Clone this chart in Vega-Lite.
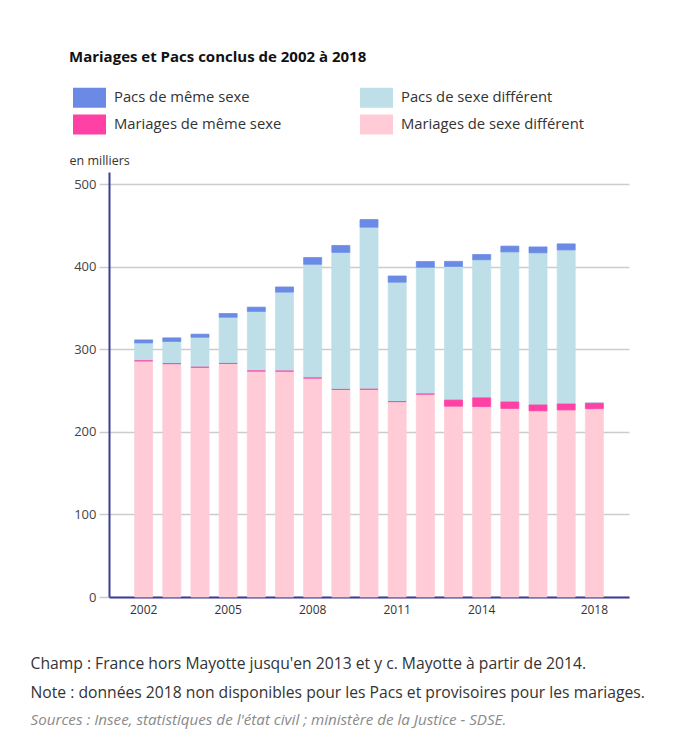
{
  "$schema": "https://vega.github.io/schema/vega-lite/v6.json",
  "background": "white",
  "padding": {"left": 30, "top": 50, "right": 5, "bottom": 5},
  "config": {
    "font": "Open Sans",
    "view": {"stroke": null}
  },
  "title": {
    "text": ["Champ : France hors Mayotte jusqu'en 2013 et y c. Mayotte à partir de 2014.", "Note : données 2018 non disponibles pour les Pacs et provisoires pour les mariages."],
    "subtitle": "Sources : Insee, statistiques de l'état civil ; ministère de la Justice - SDSE.",
    "orient": "bottom",
    "anchor": "start",
    "frame": "group",
    "dx": -78.5,
    "offset": 42,
    "font": "Open Sans",
    "fontSize": 15.7,
    "fontWeight": "normal",
    "color": "#333333",
    "lineHeight": 28.7,
    "subtitleFont": "Open Sans",
    "subtitleFontSize": 15.2,
    "subtitleFontStyle": "italic",
    "subtitleColor": "#8a8a8a",
    "subtitlePadding": 12
  },
  "vconcat": [
    {
      "width": 520,
      "height": 425,
      "title": {
        "text": "Mariages et Pacs conclus de 2002 à 2018",
        "anchor": "start",
        "frame": "group",
        "dx": -40,
        "dy": -85,
        "font": "Open Sans",
        "fontSize": 15,
        "fontWeight": "bold",
        "color": "#111111"
      },
      "data": {
        "values": [
          {"annee": "2002", "type": "Mariages de sexe différent", "milliers": 286.2},
          {"annee": "2003", "type": "Mariages de sexe différent", "milliers": 282.8},
          {"annee": "2004", "type": "Mariages de sexe différent", "milliers": 278.4},
          {"annee": "2005", "type": "Mariages de sexe différent", "milliers": 283.0},
          {"annee": "2006", "type": "Mariages de sexe différent", "milliers": 273.9},
          {"annee": "2007", "type": "Mariages de sexe différent", "milliers": 273.7},
          {"annee": "2008", "type": "Mariages de sexe différent", "milliers": 265.4},
          {"annee": "2009", "type": "Mariages de sexe différent", "milliers": 251.5},
          {"annee": "2010", "type": "Mariages de sexe différent", "milliers": 251.7},
          {"annee": "2011", "type": "Mariages de sexe différent", "milliers": 236.8},
          {"annee": "2012", "type": "Mariages de sexe différent", "milliers": 245.9},
          {"annee": "2013", "type": "Mariages de sexe différent", "milliers": 231.2},
          {"annee": "2014", "type": "Mariages de sexe différent", "milliers": 230.8},
          {"annee": "2015", "type": "Mariages de sexe différent", "milliers": 228.5},
          {"annee": "2016", "type": "Mariages de sexe différent", "milliers": 225.6},
          {"annee": "2017", "type": "Mariages de sexe différent", "milliers": 226.7},
          {"annee": "2018", "type": "Mariages de sexe différent", "milliers": 228.3},
          {"annee": "2002", "type": "Pacs de sexe différent", "milliers": 21.7},
          {"annee": "2003", "type": "Pacs de sexe différent", "milliers": 26.9},
          {"annee": "2004", "type": "Pacs de sexe différent", "milliers": 36.4},
          {"annee": "2005", "type": "Pacs de sexe différent", "milliers": 56.1},
          {"annee": "2006", "type": "Pacs de sexe différent", "milliers": 72.2},
          {"annee": "2007", "type": "Pacs de sexe différent", "milliers": 95.8},
          {"annee": "2008", "type": "Pacs de sexe différent", "milliers": 137.8},
          {"annee": "2009", "type": "Pacs de sexe différent", "milliers": 166.1},
          {"annee": "2010", "type": "Pacs de sexe différent", "milliers": 196.5},
          {"annee": "2011", "type": "Pacs de sexe différent", "milliers": 144.7},
          {"annee": "2012", "type": "Pacs de sexe différent", "milliers": 153.7},
          {"annee": "2013", "type": "Pacs de sexe différent", "milliers": 162.0},
          {"annee": "2014", "type": "Pacs de sexe différent", "milliers": 167.4},
          {"annee": "2015", "type": "Pacs de sexe différent", "milliers": 181.9},
          {"annee": "2016", "type": "Pacs de sexe différent", "milliers": 184.4},
          {"annee": "2017", "type": "Pacs de sexe différent", "milliers": 186.7},
          {"annee": "2018", "type": "Pacs de sexe différent", "milliers": 0},
          {"annee": "2002", "type": "Mariages de même sexe", "milliers": 0},
          {"annee": "2003", "type": "Mariages de même sexe", "milliers": 0},
          {"annee": "2004", "type": "Mariages de même sexe", "milliers": 0},
          {"annee": "2005", "type": "Mariages de même sexe", "milliers": 0},
          {"annee": "2006", "type": "Mariages de même sexe", "milliers": 0},
          {"annee": "2007", "type": "Mariages de même sexe", "milliers": 0},
          {"annee": "2008", "type": "Mariages de même sexe", "milliers": 0},
          {"annee": "2009", "type": "Mariages de même sexe", "milliers": 0},
          {"annee": "2010", "type": "Mariages de même sexe", "milliers": 0},
          {"annee": "2011", "type": "Mariages de même sexe", "milliers": 0},
          {"annee": "2012", "type": "Mariages de même sexe", "milliers": 0},
          {"annee": "2013", "type": "Mariages de même sexe", "milliers": 7.4},
          {"annee": "2014", "type": "Mariages de même sexe", "milliers": 10.5},
          {"annee": "2015", "type": "Mariages de même sexe", "milliers": 7.8},
          {"annee": "2016", "type": "Mariages de même sexe", "milliers": 7.1},
          {"annee": "2017", "type": "Mariages de même sexe", "milliers": 7.2},
          {"annee": "2018", "type": "Mariages de même sexe", "milliers": 6.4},
          {"annee": "2002", "type": "Pacs de même sexe", "milliers": 3.6},
          {"annee": "2003", "type": "Pacs de même sexe", "milliers": 4.3},
          {"annee": "2004", "type": "Pacs de même sexe", "milliers": 3.7},
          {"annee": "2005", "type": "Pacs de même sexe", "milliers": 4.4},
          {"annee": "2006", "type": "Pacs de même sexe", "milliers": 5.1},
          {"annee": "2007", "type": "Pacs de même sexe", "milliers": 6.2},
          {"annee": "2008", "type": "Pacs de même sexe", "milliers": 8.2},
          {"annee": "2009", "type": "Pacs de même sexe", "milliers": 8.4},
          {"annee": "2010", "type": "Pacs de même sexe", "milliers": 9.1},
          {"annee": "2011", "type": "Pacs de même sexe", "milliers": 7.5},
          {"annee": "2012", "type": "Pacs de même sexe", "milliers": 7.0},
          {"annee": "2013", "type": "Pacs de même sexe", "milliers": 6.1},
          {"annee": "2014", "type": "Pacs de même sexe", "milliers": 6.3},
          {"annee": "2015", "type": "Pacs de même sexe", "milliers": 7.0},
          {"annee": "2016", "type": "Pacs de même sexe", "milliers": 7.1},
          {"annee": "2017", "type": "Pacs de même sexe", "milliers": 7.3},
          {"annee": "2018", "type": "Pacs de même sexe", "milliers": 0}
        ]
      },
      "transform": [
        {"calculate": "indexof(['Pacs de même sexe', 'Pacs de sexe différent', 'Mariages de même sexe', 'Mariages de sexe différent'], datum.type)", "as": "rang"}
      ],
      "mark": {"type": "bar", "strokeWidth": 1, "strokeOpacity": 0.75},
      "encoding": {
        "x": {
          "field": "annee",
          "type": "ordinal",
          "scale": {"paddingInner": 0.36, "paddingOuter": 0.91},
          "axis": {
            "title": null,
            "labelAngle": 0,
            "ticks": false,
            "grid": false,
            "domainColor": "#3d3d99",
            "domainWidth": 2,
            "labelExpr": "indexof(['2002','2005','2008','2011','2014','2018'], datum.label) >= 0 ? datum.label : ''",
            "labelFontSize": 12,
            "labelColor": "#333333",
            "labelPadding": 7
          }
        },
        "y": {
          "field": "milliers",
          "type": "quantitative",
          "stack": "zero",
          "scale": {"domain": [0, 515], "nice": false},
          "axis": {
            "title": "en milliers",
            "titleAngle": 0,
            "titleX": -40,
            "titleY": -5,
            "titleAlign": "left",
            "titleBaseline": "bottom",
            "titleFontWeight": "normal",
            "titleFontSize": 12.5,
            "titleColor": "#333333",
            "values": [0, 100, 200, 300, 400, 500],
            "grid": true,
            "gridColor": "#cccccc",
            "gridWidth": 1.5,
            "tickColor": "#cccccc",
            "tickSize": 10,
            "tickWidth": 1.5,
            "domainColor": "#3d3d99",
            "domainWidth": 2,
            "labelFontSize": 13,
            "labelColor": "#444444",
            "labelPadding": 3
          }
        },
        "order": {"field": "rang", "type": "quantitative", "sort": "descending"},
        "color": {
          "field": "type",
          "type": "nominal",
          "scale": {
            "domain": ["Pacs de même sexe", "Pacs de sexe différent", "Mariages de même sexe", "Mariages de sexe différent"],
            "range": ["#6a8ae6", "#bedfe8", "#ff40a5", "#ffcbd6"]
          },
          "legend": {
            "title": null,
            "orient": "none",
            "legendX": -36,
            "legendY": -91,
            "direction": "horizontal",
            "columns": 2,
            "columnPadding": 78,
            "rowPadding": -5,
            "symbolType": "M-1,-0.606h2v1.212h-2z",
            "symbolSize": 1089,
            "symbolStrokeWidth": 0,
            "symbolOpacity": 1,
            "labelFont": "Open Sans",
            "labelFontSize": 14.8,
            "labelColor": "#333333",
            "labelOffset": 8,
            "labelLimit": 400
          }
        },
        "stroke": {
          "field": "type",
          "type": "nominal",
          "scale": {
            "domain": ["Pacs de même sexe", "Pacs de sexe différent", "Mariages de même sexe", "Mariages de sexe différent"],
            "range": ["#6a8ae6", "#bedfe8", "#ff40a5", "#ffcbd6"]
          },
          "legend": null
        }
      }
    }
  ]
}
